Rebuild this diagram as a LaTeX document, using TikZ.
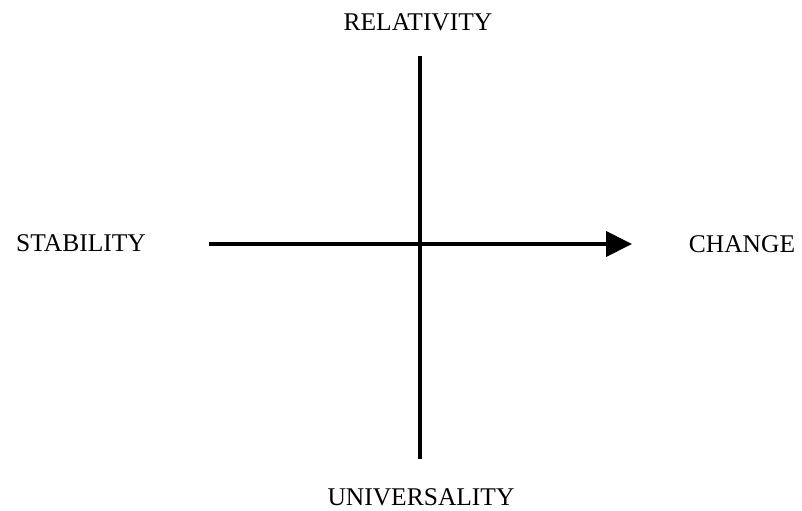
\documentclass[tikz,border=0pt]{standalone}
\usepackage{fontspec}
\setmainfont{Liberation Serif}
\usetikzlibrary{arrows.meta}
\begin{document}
\begin{tikzpicture}[x=0.5pt, y=0.5pt,
    axisstyle/.style={line width=2pt, black},
    labelstyle/.style={font=\fontsize{12.75}{15}\selectfont, inner sep=0pt}
]
    \useasboundingbox (0,0) rectangle (802,510);
    % Labels at the four ends
    \node[labelstyle] (stability) at (81,267) {STABILITY};
    \node[labelstyle] (change) at (742,266) {CHANGE};
    \node[labelstyle] (relativity) at (418,487.5) {RELATIVITY};
    \node[labelstyle] (universality) at (421,12.5) {UNIVERSALITY};
    % Axis ends
    \coordinate (xstart) at (209,266);
    \coordinate (xend) at (632,266);
    \coordinate (ytop) at (420,454);
    \coordinate (ybottom) at (420,51);
    % Horizontal axis: stability to change
    \draw[axisstyle, -{Triangle[length=13pt, width=12.5pt]}] (xstart) -- (xend);
    % Vertical axis: relativity to universality
    \draw[axisstyle] (ytop) -- (ybottom);
\end{tikzpicture}
\end{document}
